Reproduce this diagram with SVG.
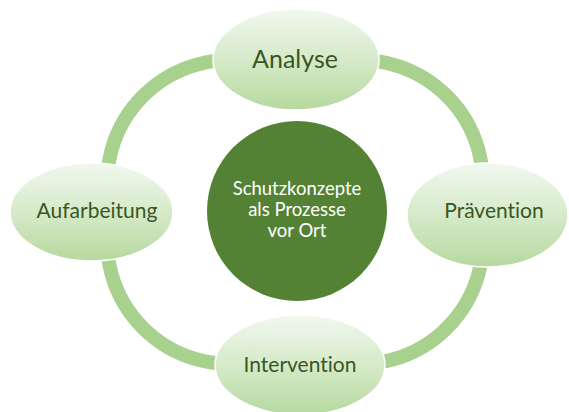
<svg xmlns="http://www.w3.org/2000/svg" width="569" height="412" viewBox="0 0 569 412">
  <defs>
    <linearGradient id="nodeFill" x1="0" y1="0" x2="0" y2="1">
      <stop offset="0" stop-color="#f1f8ee"/>
      <stop offset="0.5" stop-color="#d6eac9"/>
      <stop offset="1" stop-color="#b6d99f"/>
    </linearGradient>
  </defs>
  <style>
    text { font-variant-ligatures: none; }
    .ring { fill: none; stroke: #a9d18e; stroke-width: 14; }
    .node { fill: url(#nodeFill); stroke: #ffffff; stroke-width: 1.5; }
    .label { font-family: Lato, "Liberation Sans", sans-serif; fill: #385723; text-anchor: middle; }
    .hub { fill: #548235; }
    .hubText { font-family: Lato, "Liberation Sans", sans-serif; fill: #ffffff; text-anchor: middle; font-size: 18.5px; }
  </style>
  <rect width="569" height="412" fill="#ffffff"/>

  <!-- cycle ring: four arcs, each tucked under the neighbouring nodes -->
  <g id="connectors">
    <path class="ring" d="M108.9,204.4 A123,123 0 0 1 251.4,61.9"/>
    <path class="ring" d="M338.6,61.9 A123,123 0 0 1 481.1,204.4"/>
    <path class="ring" d="M481.1,219.6 A123,123 0 0 1 338.6,362.1"/>
    <path class="ring" d="M251.4,362.1 A123,123 0 0 1 108.9,219.6"/>
  </g>

  <g id="hub">
    <circle class="hub" cx="297" cy="211" r="90"/>
    <text class="hubText" x="297" y="195">Schutzkonzepte</text>
    <text class="hubText" x="297" y="216">als Prozesse</text>
    <text class="hubText" x="297" y="237">vor Ort</text>
  </g>

  <g id="analyse">
    <ellipse class="node" cx="296" cy="59.5" rx="83" ry="50.5"/>
    <text class="label" x="295" y="68" font-size="25">Analyse</text>
  </g>

  <g id="praevention">
    <ellipse class="node" cx="487.5" cy="215" rx="80.5" ry="52"/>
    <text class="label" x="494" y="218" font-size="21">Prävention</text>
  </g>

  <g id="intervention">
    <ellipse class="node" cx="300" cy="365" rx="85" ry="50"/>
    <text class="label" x="300" y="372" font-size="21">Intervention</text>
  </g>

  <g id="aufarbeitung">
    <ellipse class="node" cx="91.5" cy="212" rx="81.5" ry="49"/>
    <text class="label" x="97" y="218" font-size="21">Aufarbeitung</text>
  </g>
</svg>
